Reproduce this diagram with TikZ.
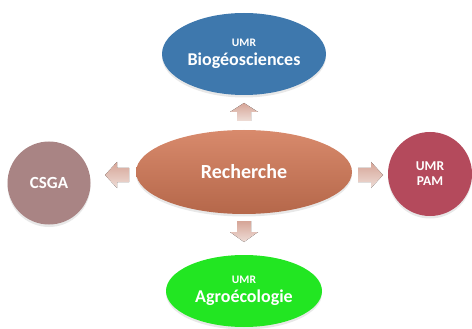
\documentclass[tikz,border=0pt]{standalone}
\usepackage{fontspec}
\setmainfont{Carlito}
\usetikzlibrary{shapes.geometric,shadows}
\definecolor{cblue}{HTML}{3E78AD}
\definecolor{corangeT}{HTML}{D88A6C}
\definecolor{corangeB}{HTML}{B5674A}
\definecolor{cmauve}{HTML}{A98484}
\definecolor{cred}{HTML}{B44A5C}
\definecolor{cgreen}{HTML}{22E622}
\definecolor{carrT}{HTML}{D6A597}
\definecolor{carrB}{HTML}{EEDDD7}
\tikzset{
  bubble/.style={ellipse, inner sep=0pt, text=white, font=\bfseries, align=center,
    drop shadow={opacity=0.18, shadow xshift=0pt, shadow yshift=-2.5pt}},
  blockarrow/.style={top color=carrT, bottom color=carrB, draw=none},
}
\begin{document}
\begin{tikzpicture}[x=1pt,y=-1pt]
\useasboundingbox (0,0) rectangle (472,329);
% nodes
\node[bubble, fill=cblue, minimum width=164pt, minimum height=82pt] (bio) at (244,54)
  {{\fontsize{11.5}{13}\selectfont UMR}\\[5pt]{\fontsize{18}{20}\selectfont Biogéosciences}};
\node[bubble, top color=corangeT, bottom color=corangeB, minimum width=216pt, minimum height=84pt] (rech) at (244,172)
  {\fontsize{20}{22}\selectfont Recherche};
\node[bubble, circle, fill=cmauve, minimum size=83pt] (csga) at (49,183)
  {\fontsize{17}{19}\selectfont CSGA};
\node[bubble, circle, fill=cred, minimum size=84pt,
  font=\bfseries\fontsize{13.5}{15}\selectfont] (pam) at (430,174)
  {UMR\\PAM};
\node[bubble, fill=cgreen, minimum width=156pt, minimum height=72pt] (agro) at (244,291)
  {{\fontsize{11.5}{13}\selectfont UMR}\\[5pt]{\fontsize{18}{20}\selectfont Agroécologie}};
% block arrows
\fill[blockarrow] (244,103) -- (258,112) -- (251,112) -- (251,121) -- (237,121) -- (237,112) -- (230,112) -- cycle;
\fill[blockarrow] (244,242) -- (258,232) -- (251,232) -- (251,221) -- (237,221) -- (237,232) -- (230,232) -- cycle;
\fill[blockarrow] (105,175) -- (117,162) -- (117,168) -- (129,168) -- (129,182) -- (117,182) -- (117,188) -- cycle;
\fill[blockarrow] (383,175) -- (371,162) -- (371,168) -- (358,168) -- (358,182) -- (371,182) -- (371,188) -- cycle;
\end{tikzpicture}
\end{document}
